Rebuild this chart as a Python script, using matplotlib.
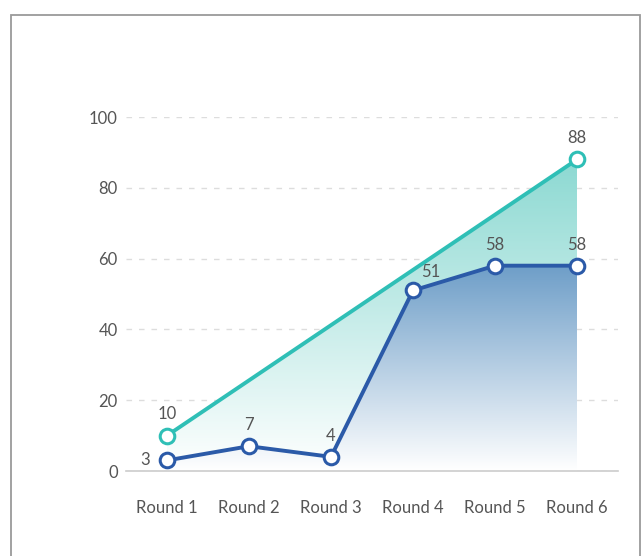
import numpy as np
import matplotlib
matplotlib.use('Agg')
import matplotlib.pyplot as plt
from matplotlib.patches import Polygon, Rectangle
from matplotlib.colors import to_rgb

rounds = ['Round 1', 'Round 2', 'Round 3', 'Round 4', 'Round 5', 'Round 6']
target = [10, None, None, None, None, 88]
actual = [3, 7, 4, 51, 58, 58]
y_ticks = [0, 20, 40, 60, 80, 100]

TEAL = '#2fbfb6'
BLUE = '#2b5aa8'
TEAL_FILL = '#8cd9d2'
BLUE_FILL = '#6e9ec8'
TXT = '#555555'

plt.rcParams['font.family'] = ['Lato', 'DejaVu Sans']


def gradient_area(ax, xs, ys, top_color, zorder):
    # vertical gradient from top_color at max(ys) down to white at 0
    top = max(ys)
    c = np.array(to_rgb(top_color))
    t = np.linspace(0, 1, 256)[:, None]  # 0 at bottom, 1 at top
    img = (1 - t) * np.ones(3) + t * c
    img = img[:, None, :]
    im = ax.imshow(img, extent=[min(xs), max(xs), 0, top], origin='lower',
                   aspect='auto', zorder=zorder, interpolation='bilinear')
    verts = [(xs[0], 0)] + list(zip(xs, ys)) + [(xs[-1], 0)]
    poly = Polygon(verts, closed=True, transform=ax.transData)
    im.set_clip_path(poly)


fig = plt.figure(figsize=(6.43, 5.56), dpi=100)
fig.patches.append(Rectangle((11 / 643, -0.05), 629 / 643, 1 - 15 / 556 + 0.05,
                             transform=fig.transFigure, fill=False,
                             edgecolor='#9a9a9a', linewidth=1.3))

ax = fig.add_axes([126 / 643, 85 / 556, 492 / 643, 354 / 556])
x = np.arange(len(rounds))

t_idx = [i for i, v in enumerate(target) if v is not None]
t_val = [target[i] for i in t_idx]

gradient_area(ax, list(x[t_idx]), t_val, TEAL_FILL, 1)
gradient_area(ax, list(x), actual, BLUE_FILL, 2)

ax.plot(x[t_idx], t_val, color=TEAL, lw=2.8, marker='o', ms=10.5,
        mfc='white', mec=TEAL, mew=2.2, zorder=4, clip_on=False)
ax.plot(x, actual, color=BLUE, lw=2.8, marker='o', ms=10.5,
        mfc='white', mec=BLUE, mew=2.2, zorder=5, clip_on=False)

# label offsets in points (most sit above the marker)
offsets = {0: (-16, 0), 3: (13, 13)}
for i, v in zip(t_idx, t_val):
    ax.annotate(str(v), (i, v), xytext=(0, 15.5), textcoords='offset points',
                ha='center', va='center', fontsize=12, color=TXT)
for i, v in enumerate(actual):
    ax.annotate(str(v), (i, v), xytext=offsets.get(i, (0, 15)),
                textcoords='offset points',
                ha='center', va='center', fontsize=12, color=TXT)

ax.set_xlim(-0.5, len(rounds) - 0.5)
ax.set_ylim(0, 100)
ax.set_xticks(x)
ax.set_xticklabels(rounds)
ax.set_yticks(y_ticks)
ax.tick_params(axis='both', length=0, labelsize=12, labelcolor=TXT)
ax.tick_params(axis='x', pad=21)
ax.tick_params(axis='y', pad=6)

for s in ['top', 'right', 'left']:
    ax.spines[s].set_visible(False)
ax.spines['bottom'].set_color('#cccccc')
ax.spines['bottom'].set_linewidth(1.2)
ax.spines['bottom'].set_zorder(3)

ax.yaxis.grid(True, linestyle=(0, (4, 5)), color='#dddddd', linewidth=1)
ax.set_axisbelow(True)
ax.patch.set_alpha(0)

fig.savefig('out.png', dpi=100)
